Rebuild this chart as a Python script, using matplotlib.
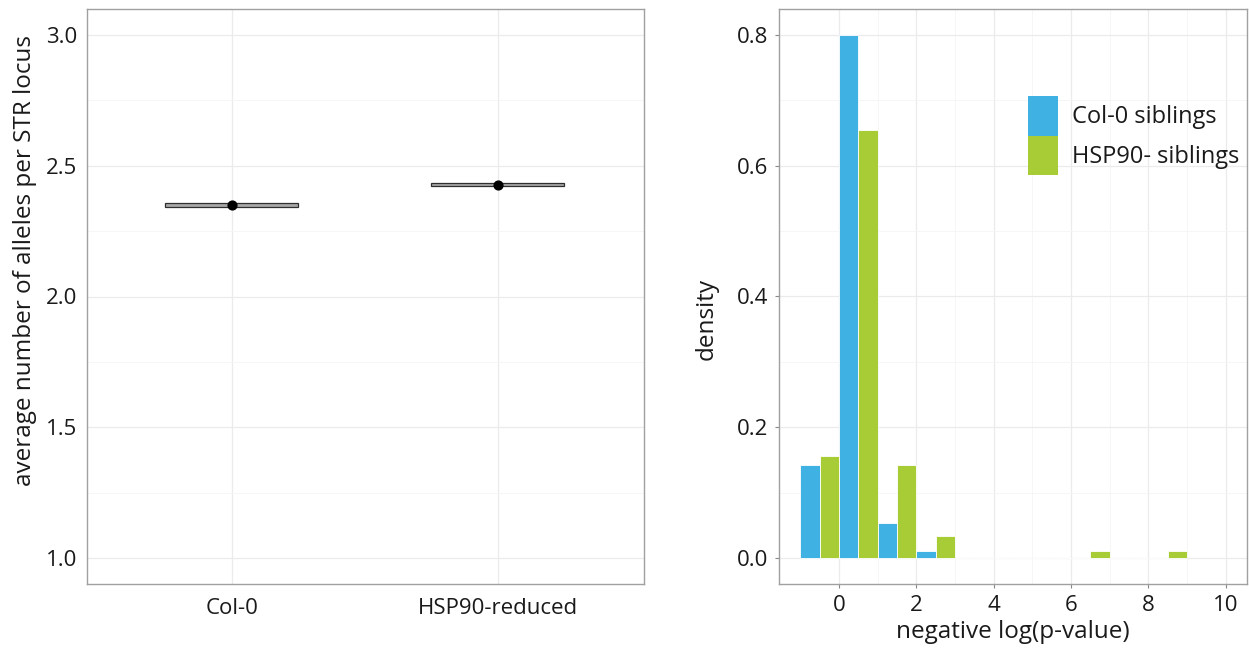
import matplotlib
matplotlib.use("Agg")
import matplotlib.pyplot as plt
from matplotlib.patches import Patch, Rectangle

plt.rcParams['font.family'] = ['Open Sans', 'DejaVu Sans']

# left panel: mean alleles per STR locus with CI
groups = ["Col-0", "HSP90-reduced"]
group_mean = [2.349, 2.428]
group_lo = [2.342, 2.421]
group_hi = [2.356, 2.435]

# right panel: density histogram of -log(p), bin width 1
bin_left = [-1, 0, 1, 2, 3, 4, 5, 6, 7, 8]
col0_density = [0.142, 0.800, 0.054, 0.010, 0, 0, 0, 0, 0, 0]
hsp_density = [0.156, 0.655, 0.142, 0.034, 0, 0, 0, 0.011, 0, 0.011]
series_labels = ["Col-0 siblings", "HSP90- siblings"]

blue = "#3FB1E3"
green = "#A8CC35"
grid_major = "#EBEBEB"
grid_minor = "#F5F5F5"
txt = "#1A1A1A"

W, H = 1249, 649
fig = plt.figure(figsize=(W / 100, H / 100), dpi=100)


def box(x0, x1, y0, y1):
    return [x0 / W, 1 - y1 / H, (x1 - x0) / W, (y1 - y0) / H]


def style(ax):
    ax.set_axisbelow(True)
    for s in ax.spines.values():
        s.set_color("#A0A0A0")
        s.set_linewidth(1.0)
    ax.tick_params(labelsize=16, colors=txt, length=3, width=0.8)
    ax.tick_params(axis='both', which='major', color="#888888")
    ax.grid(True, which='major', color=grid_major, linewidth=0.9)
    ax.grid(True, which='minor', color=grid_minor, linewidth=0.6)
    ax.tick_params(which='minor', length=0)


# ---- left ----
ax1 = fig.add_axes(box(87, 644, 9, 584))
style(ax1)
xpos = [1, 2]
for x, m, lo, hi in zip(xpos, group_mean, group_lo, group_hi):
    ax1.add_patch(Rectangle((x - 0.25, lo), 0.5, hi - lo,
                            facecolor="#A8A8A8", edgecolor="#2E2E2E",
                            linewidth=0.9, zorder=3))
ax1.scatter(xpos, group_mean, s=40, color="black", zorder=4)
ax1.set_xlim(0.455, 2.549)
ax1.set_ylim(0.9, 3.1)
ax1.set_xticks(xpos)
ax1.set_xticklabels(groups)
ax1.set_yticks([1.0, 1.5, 2.0, 2.5, 3.0])
ax1.set_yticks([1.25, 1.75, 2.25, 2.75], minor=True)
ax1.tick_params(axis='both', which='major', length=0)
ax1.tick_params(axis='x', pad=10)
ax1.tick_params(axis='y', pad=7)
ax1.set_ylabel("average number of alleles per STR locus", fontsize=17.5,
               color=txt)
ax1.yaxis.set_label_coords(-0.09, 0.563)

# ---- right ----
ax2 = fig.add_axes(box(779, 1247, 9, 584))
style(ax2)
ax2.bar(bin_left, col0_density, width=0.5, align='edge', color=blue,
        edgecolor="white", linewidth=0.6, zorder=3)
ax2.bar([b + 0.5 for b in bin_left], hsp_density, width=0.5, align='edge',
        color=green, edgecolor="white", linewidth=0.6, zorder=3)
ax2.set_xlim(-1.55, 10.55)
ax2.set_ylim(-0.04, 0.84)
ax2.set_xticks([0, 2, 4, 6, 8, 10])
ax2.set_xticks([1, 3, 5, 7, 9], minor=True)
ax2.set_yticks([0.0, 0.2, 0.4, 0.6, 0.8])
ax2.set_yticks([0.1, 0.3, 0.5, 0.7], minor=True)
ax2.tick_params(axis='x', pad=5)
ax2.tick_params(axis='y', pad=5)
ax2.set_xlabel("negative log(p-value)", fontsize=17.5, color=txt, labelpad=3)
ax2.set_ylabel("density", fontsize=17.5, color=txt)
ax2.yaxis.set_label_coords(-0.128, 0.46)

handles = [Patch(facecolor=blue, edgecolor='none'),
           Patch(facecolor=green, edgecolor='none')]
fig.legend(handles, series_labels, loc='upper left',
           bbox_to_anchor=(1028 / W, 1 - 96 / H), frameon=False,
           fontsize=17, handlelength=1.27, handleheight=2.2,
           labelspacing=0, handletextpad=0.6, borderpad=0,
           borderaxespad=0, labelcolor=txt)

fig.savefig("out.png", dpi=100)
